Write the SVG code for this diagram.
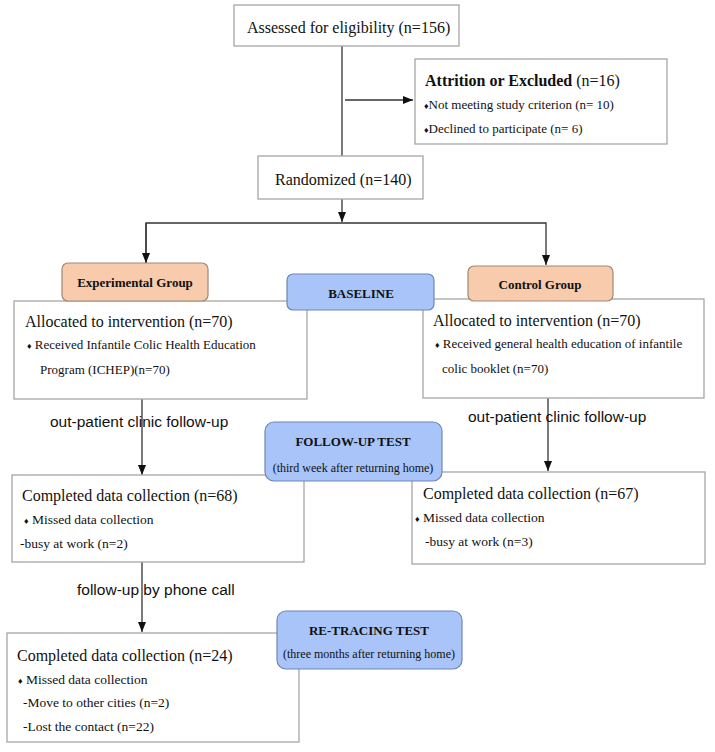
<svg xmlns="http://www.w3.org/2000/svg" width="715" height="752" viewBox="0 0 715 752">
<style>
.box{fill:#fff;stroke:#a6a6a6;stroke-width:1.3}
.grp{fill:#f8cbad;stroke:#a08878;stroke-width:1.2}
.tst{fill:#a8c4f8;stroke:#6f86b3;stroke-width:1.2}
.t{font-family:"Liberation Serif","Times New Roman",serif;fill:#111}
.m{font-size:16px}
.s{font-size:13.5px}
.r{font-size:13px}
.b{font-weight:bold;font-size:13px}
.sm{font-size:12px}
.lab{font-family:"Liberation Sans",Arial,sans-serif;font-size:15.5px;fill:#111}
.ln{stroke:#333;stroke-width:1.3;fill:none}
</style>
<defs>
<marker id="ah" markerUnits="userSpaceOnUse" markerWidth="10" markerHeight="10" viewBox="0 0 10 10" refX="10" refY="5" orient="auto">
<path d="M0,1 L10,5 L0,9 Z" fill="#111"/>
</marker>
</defs>

<g id="connectors">
<line class="ln" x1="342" y1="46" x2="342" y2="156"/>
<line class="ln" x1="345" y1="100" x2="413" y2="100" marker-end="url(#ah)"/>
<line class="ln" x1="342" y1="199" x2="342" y2="222" marker-end="url(#ah)"/>
<polyline class="ln" points="146,263 146,223 546,223 546,265" marker-end="url(#ah)"/>
<line class="ln" x1="146" y1="223" x2="146" y2="263" marker-end="url(#ah)"/>
<line class="ln" x1="142" y1="399" x2="142" y2="475" marker-end="url(#ah)"/>
<line class="ln" x1="548" y1="398" x2="548" y2="471" marker-end="url(#ah)"/>
<line class="ln" x1="142" y1="562" x2="142" y2="632" marker-end="url(#ah)"/>
<text class="lab" x="50" y="427">out-patient clinic follow-up</text>
<text class="lab" x="468" y="422">out-patient clinic follow-up</text>
<text class="lab" x="77" y="595">follow-up by phone call</text>
</g>

<g id="assessed">
<rect class="box" x="234" y="5" width="225" height="41"/>
<text class="t m" x="247" y="33">Assessed for eligibility (n=156)</text>
</g>

<g id="excluded">
<rect class="box" x="415" y="59" width="252" height="85"/>
<text class="t m" x="425" y="86"><tspan font-weight="bold">Attrition or Excluded</tspan> (n=16)</text>
<text class="t" font-size="13" x="424" y="109"><tspan font-size="9">♦</tspan>Not meeting study criterion (n= 10)</text>
<text class="t" font-size="13" x="424" y="133"><tspan font-size="9">♦</tspan>Declined to participate (n= 6)</text>
</g>

<g id="randomized">
<rect class="box" x="258" y="156" width="165" height="43"/>
<text class="t m" x="275" y="185">Randomized (n=140)</text>
</g>

<g id="alloc-exp">
<rect class="box" x="14" y="301" width="293" height="98"/>
<text class="t m" x="25" y="327">Allocated to intervention (n=70)</text>
<text class="t r" x="27" y="349"><tspan font-size="9">♦</tspan> Received Infantile Colic Health Education</text>
<text class="t r" x="40" y="374">Program (ICHEP)(n=70)</text>
</g>

<g id="alloc-ctl">
<rect class="box" x="423" y="299" width="281" height="99"/>
<text class="t m" x="433" y="326">Allocated to intervention (n=70)</text>
<text class="t r" x="435" y="348"><tspan font-size="9">♦</tspan> Received general health education of infantile</text>
<text class="t r" x="442" y="373">colic booklet (n=70)</text>
</g>

<g id="exp-group">
<rect class="grp" x="62" y="263" width="146" height="38" rx="6"/>
<text class="t b" x="135" y="287" text-anchor="middle">Experimental Group</text>
</g>

<g id="ctl-group">
<rect class="grp" x="468" y="266" width="145" height="35" rx="6"/>
<text class="t b" x="540" y="289" text-anchor="middle">Control Group</text>
</g>

<g id="baseline">
<rect class="tst" x="287" y="274" width="147" height="36" rx="6"/>
<text class="t b" x="361" y="298" text-anchor="middle">BASELINE</text>
</g>

<g id="completed-exp">
<rect class="box" x="12" y="475" width="292" height="87"/>
<text class="t m" x="22" y="501">Completed data collection (n=68)</text>
<text class="t s" x="24" y="524"><tspan font-size="9">♦</tspan> Missed data collection</text>
<text class="t s" x="20" y="548">-busy at work (n=2)</text>
</g>

<g id="completed-ctl">
<rect class="box" x="412" y="472" width="293" height="92"/>
<text class="t m" x="423" y="499">Completed data collection (n=67)</text>
<text class="t s" x="415" y="522"><tspan font-size="9">♦</tspan> Missed data collection</text>
<text class="t s" x="425" y="546">-busy at work (n=3)</text>
</g>

<g id="followup-test">
<rect class="tst" x="265" y="422" width="177" height="59" rx="9"/>
<text class="t b" x="353" y="446" text-anchor="middle">FOLLOW-UP TEST</text>
<text class="t sm" x="353" y="472" text-anchor="middle">(third week after returning home)</text>
</g>

<g id="completed-final">
<rect class="box" x="7" y="633" width="292" height="109"/>
<text class="t m" x="17" y="661">Completed data collection (n=24)</text>
<text class="t s" x="18" y="684"><tspan font-size="9">♦</tspan> Missed data collection</text>
<text class="t s" x="23" y="707">-Move to other cities (n=2)</text>
<text class="t s" x="23" y="731">-Lost the contact (n=22)</text>
</g>

<g id="retracing-test">
<rect class="tst" x="277" y="611" width="185" height="58" rx="9"/>
<text class="t b" x="369" y="635" text-anchor="middle">RE-TRACING TEST</text>
<text class="t sm" x="369" y="658" text-anchor="middle">(three months after returning home)</text>
</g>
</svg>
